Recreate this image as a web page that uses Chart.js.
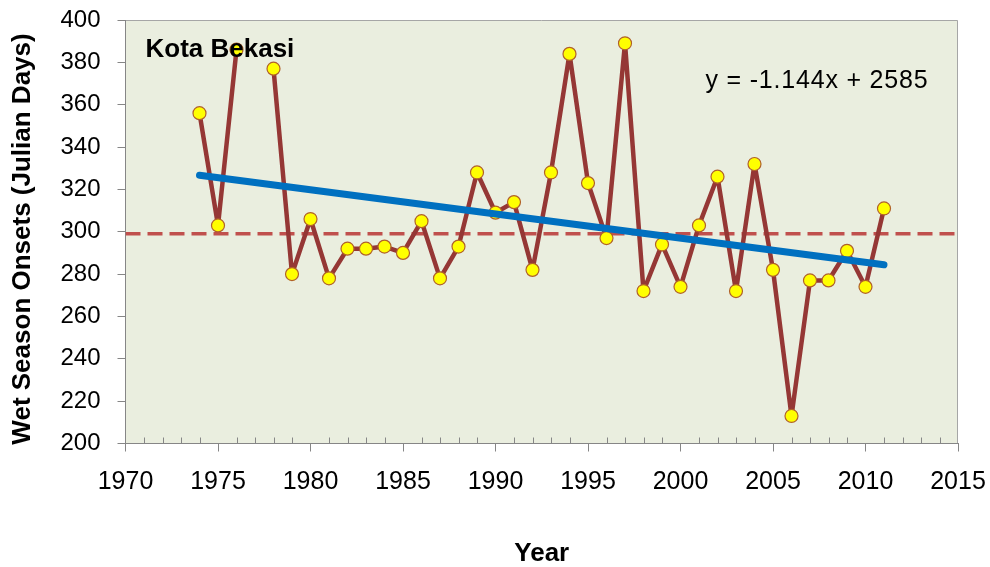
<!DOCTYPE html>
<html>
<head>
<meta charset="utf-8">
<script src="https://cdn.jsdelivr.net/npm/chart.js@4"></script>
<style>
  html, body { margin: 0; padding: 0; background: #fff; }
  #chart { display: block; }
</style>
</head>
<body>
<canvas id="chart" width="990" height="567"></canvas>
<script>
// wet season onset per year (1977 missing)
const years = [1974, 1975, 1976, 1977, 1978, 1979, 1980, 1981, 1982, 1983, 1984, 1985,
  1986, 1987, 1988, 1989, 1990, 1991, 1992, 1993, 1994, 1995, 1996, 1997, 1998, 1999,
  2000, 2001, 2002, 2003, 2004, 2005, 2006, 2007, 2008, 2009, 2010, 2011];
const onsets = [356, 303, 386, null, 377, 280, 306, 278, 292, 292, 293, 290,
  305, 278, 293, 328, 309, 314, 282, 328, 384, 323, 297, 389, 272, 294,
  274, 303, 326, 272, 332, 282, 213, 277, 277, 291, 274, 311];

// linear trend end points (y = -1.144x + 2585)
const trendYears = [1974, 2011];
const trendValues = [326.7, 284.4];

// long term average (dashed)
const meanYears = [1970, 2015];
const meanValues = [299, 299];

const stationName = 'Kota Bekasi';
const trendLabel = 'y = -1.144x + 2585';
const xTitle = 'Year';
const yTitle = 'Wet Season Onsets (Julian Days)';

const FONT = "'Liberation Sans', Arial, sans-serif";
const axisGray = '#868686';

const toPoints = (xs, ys) => xs.map((x, i) => ({ x: x, y: ys[i] }));

// background, frame, minor ticks and the two text labels
const decorations = {
  id: 'decorations',
  beforeDraw(chart) {
    const { ctx, chartArea: a } = chart;
    ctx.save();
    ctx.fillStyle = '#EAEEDF';
    ctx.fillRect(a.left, a.top, a.right - a.left, a.bottom - a.top);
    ctx.strokeStyle = '#A6A6A6';
    ctx.lineWidth = 1;
    ctx.beginPath();
    ctx.moveTo(a.left, a.top + 0.5);
    ctx.lineTo(a.right - 0.5, a.top + 0.5);
    ctx.lineTo(a.right - 0.5, a.bottom);
    ctx.stroke();
    ctx.restore();
  },
  afterDraw(chart) {
    const { ctx, chartArea: a, scales } = chart;
    ctx.save();
    // minor ticks go up into the plot
    ctx.strokeStyle = axisGray;
    ctx.lineWidth = 1;
    scales.x.ticks.forEach(t => {
      if (t.value % 5 === 0) return;
      const px = Math.round(scales.x.getPixelForValue(t.value)) + 0.5;
      ctx.beginPath();
      ctx.moveTo(px, a.bottom);
      ctx.lineTo(px, a.bottom - 6);
      ctx.stroke();
    });
    ctx.fillStyle = '#000';
    ctx.textBaseline = 'alphabetic';
    ctx.font = `bold 26px ${FONT}`;
    ctx.fillText(stationName, a.left + 20, a.top + 37);
    ctx.font = `25px ${FONT}`;
    ctx.letterSpacing = '0.8px';
    ctx.fillText(trendLabel, a.left + 580, a.top + 68);
    ctx.restore();
  }
};

new Chart(document.getElementById('chart'), {
  type: 'line',
  data: {
    datasets: [
      {
        label: 'Trend',
        data: toPoints(trendYears, trendValues),
        borderColor: '#0070C0',
        borderWidth: 7,
        borderCapStyle: 'round',
        pointRadius: 0,
        order: 0
      },
      {
        label: 'Onset',
        data: toPoints(years, onsets),
        borderColor: '#953735',
        borderWidth: 4.5,
        borderJoinStyle: 'round',
        spanGaps: false,
        pointRadius: 6.5,
        pointBackgroundColor: '#FFFF00',
        pointBorderColor: '#B0602A',
        pointBorderWidth: 1.2,
        order: 1
      },
      {
        label: 'Mean',
        data: toPoints(meanYears, meanValues),
        borderColor: '#C0504D',
        borderWidth: 3.5,
        borderDash: [15, 7],
        pointRadius: 0,
        order: 2
      }
    ]
  },
  options: {
    responsive: false,
    animation: false,
    layout: { padding: { top: 20, right: 32, left: 0, bottom: 0 } },
    plugins: { legend: { display: false }, tooltip: { enabled: false } },
    scales: {
      x: {
        type: 'linear',
        min: 1970,
        max: 2015,
        afterFit(scale) {
          scale.height = 123.5;
          scale.paddingLeft = 0;
          scale.paddingRight = 0;
        },
        ticks: {
          stepSize: 1,
          autoSkip: false,
          minRotation: 0,
          maxRotation: 0,
          padding: 16,
          color: '#000',
          font: { family: FONT, size: 25 },
          callback: v => (v % 5 === 0 ? String(v) : '')
        },
        grid: {
          drawOnChartArea: false,
          drawTicks: true,
          tickLength: 8,
          tickColor: c => (c.tick && c.tick.value % 5 === 0 ? axisGray : 'rgba(0,0,0,0)')
        },
        border: { display: true, color: axisGray, width: 1 },
        title: {
          display: true,
          text: xTitle,
          color: '#000',
          font: { family: FONT, size: 26, weight: 'bold', lineHeight: 1 },
          padding: { top: 0, bottom: 0 }
        }
      },
      y: {
        min: 200,
        max: 400,
        afterFit(scale) {
          scale.width = 125.5;
          scale.paddingTop = 0;
          scale.paddingBottom = 0;
        },
        ticks: {
          stepSize: 20,
          padding: 17,
          color: '#000',
          font: { family: FONT, size: 24 }
        },
        grid: {
          drawOnChartArea: false,
          drawTicks: true,
          tickLength: 8,
          tickColor: axisGray
        },
        border: { display: true, color: axisGray, width: 1 },
        title: {
          display: true,
          text: yTitle + '  ',
          color: '#000',
          font: { family: FONT, size: 26, weight: 'bold', lineHeight: 1.2 },
          padding: { top: 7, bottom: 0 }
        }
      }
    }
  },
  plugins: [decorations]
});
</script>
</body>
</html>
